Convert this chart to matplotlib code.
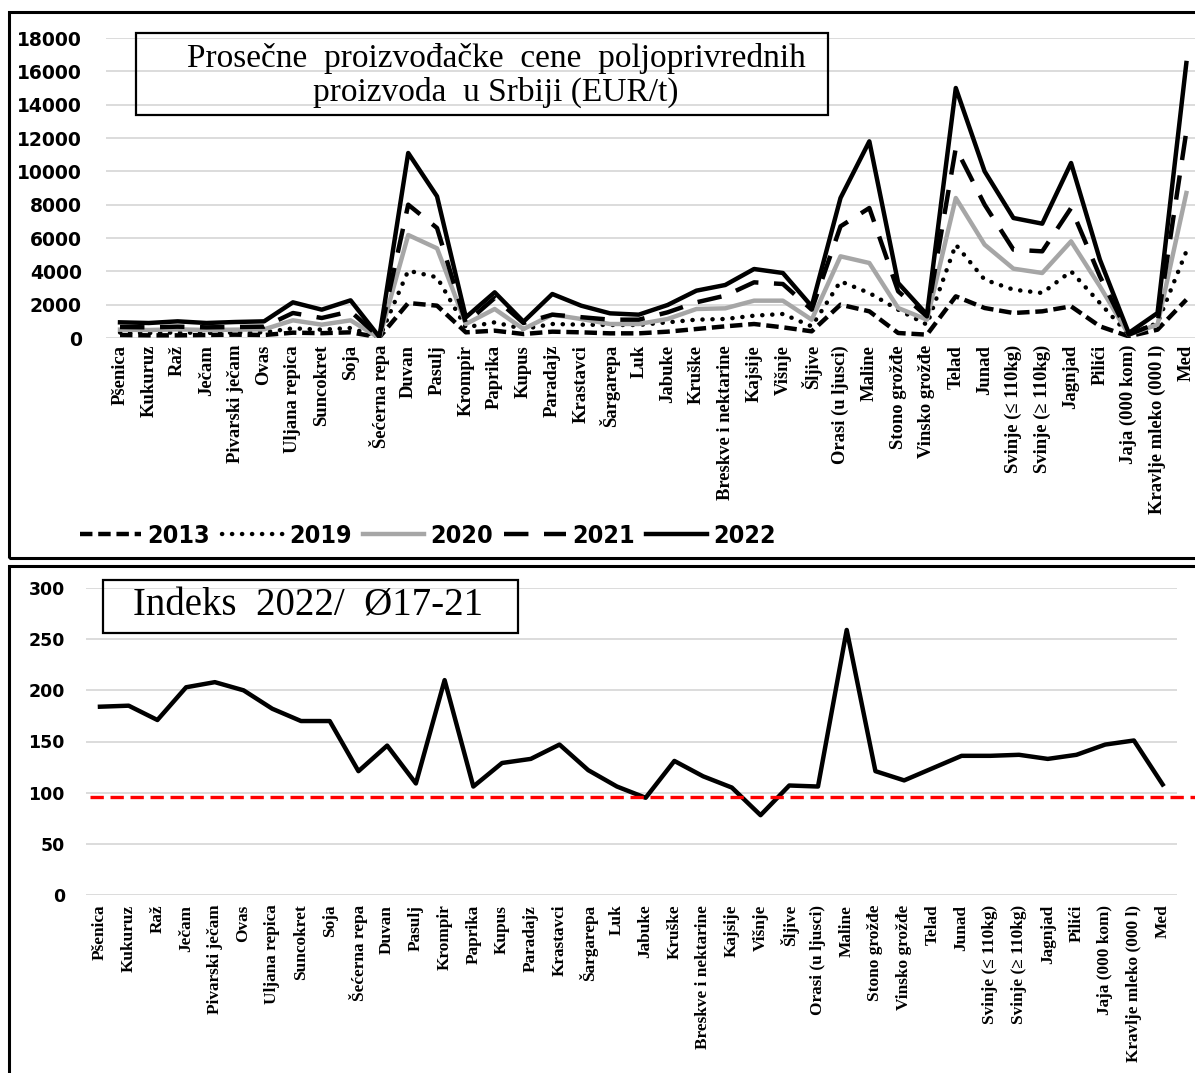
import matplotlib
matplotlib.use("Agg")
import matplotlib.pyplot as plt
from matplotlib.patches import Rectangle

# kategorije
cats = ['Pšenica', 'Kukuruz', 'Raž', 'Ječam', 'Pivarski ječam', 'Ovas', 'Uljana repica',
        'Suncokret', 'Soja', 'Šećerna repa', 'Duvan', 'Pasulj', 'Krompir', 'Paprika',
        'Kupus', 'Paradajz', 'Krastavci', 'Šargarepa', 'Luk', 'Jabuke', 'Kruške',
        'Breskve i nektarine', 'Kajsije', 'Višnje', 'Šljive', 'Orasi (u ljusci)', 'Maline',
        'Stono grožđe', 'Vinsko grožđe', 'Telad', 'Junad', 'Svinje (≤ 110kg)',
        'Svinje (≥ 110kg)', 'Jagnjad', 'Pilići', 'Jaja (000 kom)', 'Kravlje mleko (000 l)', 'Med']

# cene EUR/t
y2013 = [180, 160, 160, 180, 200, 180, 320, 290, 340, 40, 2100, 1940, 340, 440, 240, 380, 340,
         280, 280, 380, 540, 700, 840, 640, 400, 2000, 1600, 300, 200, 2500, 1800, 1500, 1600,
         1900, 700, 100, 500, 2300]
y2019 = [330, 300, 330, 300, 320, 340, 580, 500, 600, 20, 4040, 3640, 640, 940, 540, 840, 800,
         780, 780, 940, 1100, 1140, 1340, 1440, 700, 3400, 2700, 1700, 800, 5600, 3500, 2900,
         2700, 4000, 2100, 200, 900, 5200]
y2020 = [500, 480, 520, 480, 500, 520, 1060, 800, 1060, 0, 6180, 5380, 840, 1740, 540, 1400,
         1140, 840, 840, 1140, 1740, 1780, 2240, 2240, 1100, 4900, 4500, 1800, 1100, 8400, 5600,
         4160, 3900, 5800, 3100, 200, 800, 8700]
y2021 = [660, 640, 680, 640, 660, 680, 1500, 1200, 1600, 50, 8000, 6600, 900, 2400, 900, 1400,
         1250, 1100, 1100, 1540, 2140, 2540, 3340, 3240, 1700, 6700, 7800, 2800, 1300, 11400,
         8000, 5300, 5200, 7800, 3700, 200, 900, 12400]
y2022 = [940, 900, 1000, 900, 960, 1000, 2140, 1700, 2260, 60, 11100, 8500, 1240, 2740, 980,
         2640, 1940, 1480, 1400, 1980, 2840, 3180, 4140, 3900, 1900, 8400, 11800, 3300, 1400,
         15000, 10000, 7200, 6860, 10500, 4700, 300, 1500, 16500]

# indeks 2022 / prosek 2017-21
indeks = [184, 185, 171, 203, 208, 200, 182, 170, 170, 121, 146, 109, 210, 106, 129, 133, 147,
          122, 106, 95, 131, 116, 105, 78, 107, 106, 259, 121, 112, 124, 136, 136, 137, 133,
          137, 147, 151, 108]
ref_line = 96

W, H = 1195, 1073
fig = plt.figure(figsize=(W / 100, H / 100), dpi=100)

def fx(px):
    return px / W

def fy(py):
    return 1 - py / H

x = list(range(len(cats)))
grid_c = '#D9D9D9'

# ---- gornji grafik
ax1 = fig.add_axes([fx(105.6), fy(338), fx(1195 - 105.6), 300 / H])
lw = 3.2
ax1.plot(x, y2013, color='black', lw=lw, dashes=(2.8, 1.3), label='2013')
ax1.plot(x, y2019, color='black', lw=lw, dashes=(0.05, 2.2), dash_capstyle='round', label='2019')
ax1.plot(x, y2020, color='#A6A6A6', lw=lw, label='2020')
ax1.plot(x, y2021, color='black', lw=lw, dashes=(5.5, 3.5), label='2021')
ax1.plot(x, y2022, color='black', lw=lw, label='2022')
ax1.set_xlim(-0.5, len(cats) - 0.7)
ax1.set_ylim(0, 18000)
ax1.set_yticks(range(0, 18001, 2000))
ax1.grid(axis='y', color=grid_c, lw=1.3)
ax1.set_axisbelow(True)
for s in ax1.spines.values():
    s.set_visible(False)
ax1.tick_params(length=0)
ax1.tick_params(axis='y', pad=17)
ax1.tick_params(axis='x', pad=5)
ax1.set_xticks(x)
ax1.set_xticklabels(cats, rotation=90, family='Liberation Serif', weight='bold', fontsize=13.4)
for t in ax1.get_yticklabels():
    t.set_family('DejaVu Sans')
    t.set_weight('bold')
    t.set_fontsize(13.5)

leg = fig.legend(loc='center', bbox_to_anchor=(fx(428), fy(536)), ncol=5, frameon=False,
                 handlelength=2.45, handletextpad=0.25, columnspacing=0.45,
                 prop={'family': 'DejaVu Sans', 'stretch': 'condensed', 'weight': 'bold', 'size': 18})

fig.add_artist(Rectangle((fx(136), fy(115)), fx(828 - 136), (115 - 33) / H, transform=fig.transFigure,
                         fill=False, ec='black', lw=1.6))
fig.text(fx(496), fy(58), 'Prosečne  proizvođačke  cene  poljoprivrednih', ha='center', va='center',
         family='Liberation Serif', fontsize=24)
fig.text(fx(496), fy(92), 'proizvoda  u Srbiji (EUR/t)', ha='center', va='center',
         family='Liberation Serif', fontsize=24)

# ---- donji grafik
ax2 = fig.add_axes([fx(85.6), fy(895), fx(1177 - 85.6), 307 / H])
ax2.plot(x, indeks, color='black', lw=3.2)
ax2.axhline(ref_line, xmin=0.004, xmax=(1195 - 85.6) / (1177 - 85.6), color='#FF0000', lw=2.4,
            dashes=(4, 2), clip_on=False)
ax2.set_xlim(-0.5, len(cats) - 0.5)
ax2.set_ylim(0, 300)
ax2.set_yticks(range(0, 301, 50))
ax2.grid(axis='y', color=grid_c, lw=1.3)
ax2.set_axisbelow(True)
for s in ax2.spines.values():
    s.set_visible(False)
ax2.tick_params(length=0)
ax2.tick_params(axis='y', pad=15)
ax2.tick_params(axis='x', pad=7)
ax2.set_xticks(x)
ax2.set_xticklabels(cats, rotation=90, family='Liberation Serif', weight='bold', fontsize=12.4)
for t in ax2.get_yticklabels():
    t.set_family('DejaVu Sans')
    t.set_weight('bold')
    t.set_fontsize(12.5)

fig.add_artist(Rectangle((fx(103), fy(633)), fx(518 - 103), (633 - 580) / H, transform=fig.transFigure,
                         fill=False, ec='black', lw=1.6))
fig.text(fx(308), fy(606), 'Indeks  2022/  Ø17-21', ha='center', va='center',
         family='Liberation Serif', fontsize=28)

# okviri panela
fig.add_artist(Rectangle((fx(9), fy(558)), fx(1200 - 9), (558 - 12) / H, transform=fig.transFigure,
                         fill=False, ec='black', lw=2.2))
fig.add_artist(Rectangle((fx(9), fy(1080)), fx(1200 - 9), (1080 - 566) / H, transform=fig.transFigure,
                         fill=False, ec='black', lw=2.2))

fig.savefig('out.png', dpi=100)
